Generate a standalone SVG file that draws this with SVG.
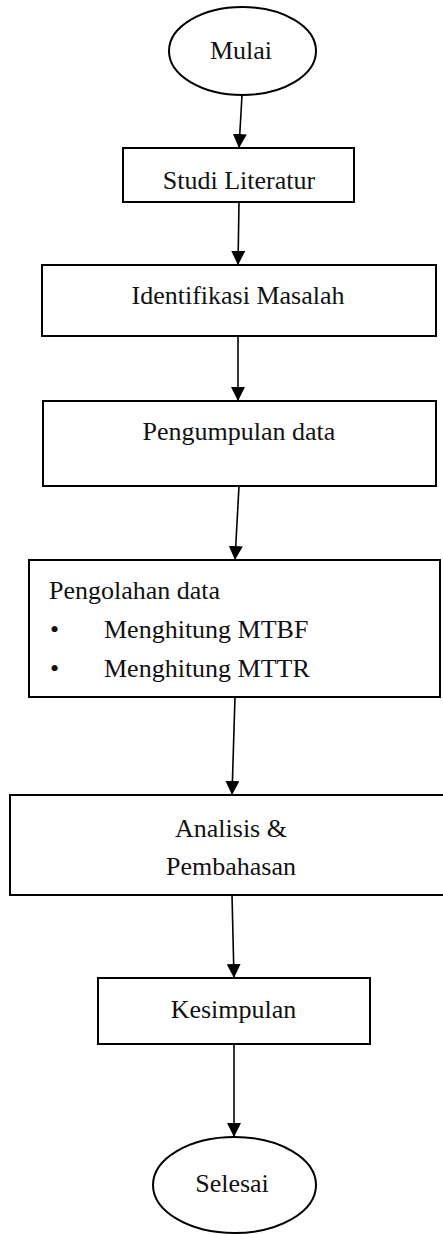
<svg xmlns="http://www.w3.org/2000/svg" width="443" height="1234" viewBox="0 0 443 1234">
<style>
  .box{fill:#fff;stroke:#000;stroke-width:2}
  .t{font-family:"Liberation Serif","Times New Roman",serif;font-size:26px;fill:#111}
  .c{text-anchor:middle}
  .conn line{stroke:#000;stroke-width:1.6;fill:none}
</style>
<defs>
  <marker id="ah" markerUnits="userSpaceOnUse" markerWidth="14" markerHeight="14" refX="14" refY="7" orient="auto">
    <path d="M0,0 L14,7 L0,14 Z" fill="#000"/>
  </marker>
</defs>
<rect width="443" height="1234" fill="#fff"/>
<g id="mulai">
  <ellipse class="box" cx="242.5" cy="51" rx="73.5" ry="44"/>
  <text class="t c" x="241" y="59">Mulai</text>
</g>
<g id="studi">
  <rect class="box" x="123" y="148" width="231" height="54"/>
  <text class="t c" x="239" y="189">Studi Literatur</text>
</g>
<g id="identifikasi">
  <rect class="box" x="42" y="265" width="394" height="71"/>
  <text class="t c" x="238" y="304">Identifikasi Masalah</text>
</g>
<g id="pengumpulan">
  <rect class="box" x="43" y="401" width="393" height="85"/>
  <text class="t c" x="239" y="440">Pengumpulan data</text>
</g>
<g id="pengolahan">
  <rect class="box" x="29" y="560" width="411" height="137"/>
  <text class="t" x="49" y="599">Pengolahan data</text>
  <text class="t" x="50" y="638">•</text>
  <text class="t" x="104" y="638">Menghitung MTBF</text>
  <text class="t" x="50" y="677">•</text>
  <text class="t" x="104" y="677">Menghitung MTTR</text>
</g>
<g id="analisis">
  <rect class="box" x="10" y="795" width="446" height="100"/>
  <text class="t c" x="231" y="837">Analisis &amp;</text>
  <text class="t c" x="231" y="875">Pembahasan</text>
</g>
<g id="kesimpulan">
  <rect class="box" x="98" y="978" width="272" height="66"/>
  <text class="t c" x="233.5" y="1018">Kesimpulan</text>
</g>
<g id="selesai">
  <ellipse class="box" cx="234.5" cy="1185" rx="81.5" ry="48"/>
  <text class="t c" x="232" y="1192">Selesai</text>
</g>
<g id="connectors" class="conn">
  <line x1="242" y1="95" x2="239" y2="148" marker-end="url(#ah)"/>
  <line x1="239" y1="202" x2="238" y2="265" marker-end="url(#ah)"/>
  <line x1="238" y1="336" x2="238" y2="401" marker-end="url(#ah)"/>
  <line x1="239" y1="486" x2="235" y2="560" marker-end="url(#ah)"/>
  <line x1="235" y1="697" x2="232" y2="795" marker-end="url(#ah)"/>
  <line x1="232" y1="895" x2="234" y2="978" marker-end="url(#ah)"/>
  <line x1="234" y1="1044" x2="234" y2="1137" marker-end="url(#ah)"/>
</g>
</svg>
